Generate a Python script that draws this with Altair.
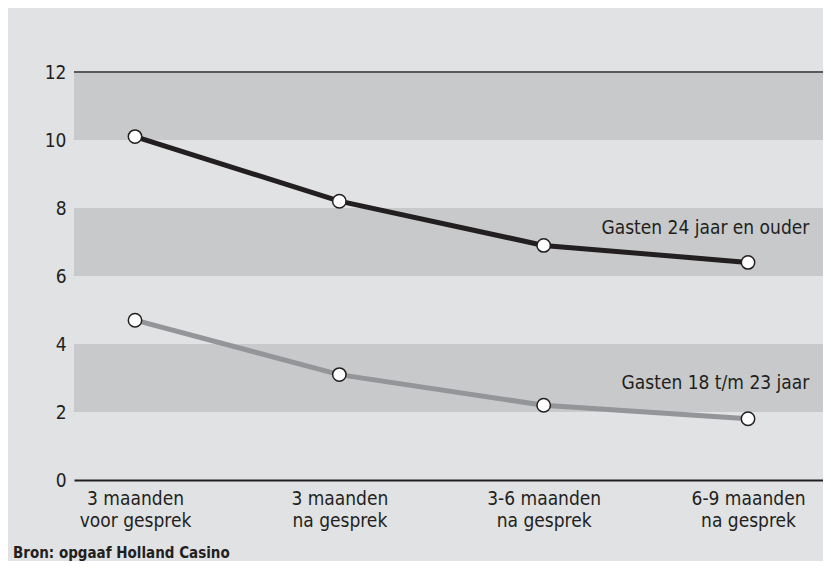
import altair as alt
import pandas as pd

categories = [["3 maanden", "voor gesprek"], ["3 maanden", "na gesprek"],
              ["3-6 maanden", "na gesprek"], ["6-9 maanden", "na gesprek"]]
series_old = "Gasten 24 jaar en ouder"
series_young = "Gasten 18 t/m 23 jaar"
values_old = [10.1, 8.2, 6.9, 6.4]
values_young = [4.7, 3.1, 2.2, 1.8]
y_ticks = [0, 2, 4, 6, 8, 10, 12]
band_lo = [10, 6, 2]
band_hi = [12, 8, 4]
label_x = [3.3, 3.3]
label_y = [7.4, 2.85]
source = "Bron: opgaaf Holland Casino"

FONT = "Liberation Sans Narrow, DejaVu Sans Condensed, Roboto, sans-serif"
BG = "#e1e2e4"
BAND = "#c8c9cb"

rows = []
for i in range(len(categories)):
    rows.append({"idx": i, "value": values_old[i], "series": series_old})
for i in range(len(categories)):
    rows.append({"idx": i, "value": values_young[i], "series": series_young})
df = pd.DataFrame(rows)
bands = pd.DataFrame({"lo": band_lo, "hi": band_hi})
labels = pd.DataFrame({"x": label_x, "y": label_y, "text": [series_old, series_young]})

xdom = [-0.2986, 3.367]
label_expr = "[" + ",".join("['" + a + "','" + b + "']" for a, b in categories) + "][datum.value]"

xscale = alt.Scale(domain=xdom, nice=False, zero=False)
yscale = alt.Scale(domain=[0, 12], nice=False)

band_layer = alt.Chart(bands).mark_rect(color=BAND).encode(
    y=alt.Y("lo:Q", scale=yscale,
            axis=alt.Axis(values=y_ticks, title=None, domain=False, ticks=False, grid=False,
                          labelFont=FONT, labelFontSize=19, labelColor="#231f20", labelPadding=8)),
    y2="hi:Q",
)

top_rule = alt.Chart(pd.DataFrame({"v": [max(y_ticks)]})).mark_rule(color="#58595b", strokeWidth=2).encode(
    y=alt.Y("v:Q", scale=yscale)
)

color_scale = alt.Scale(domain=[series_old, series_young], range=["#231f20", "#939598"])

lines = alt.Chart(df).mark_line(strokeWidth=5, interpolate="linear").encode(
    x=alt.X("idx:Q", scale=xscale,
            axis=alt.Axis(values=list(range(len(categories))), title=None, grid=False, ticks=False,
                          domainColor="#231f20", domainWidth=2, labelExpr=label_expr,
                          labelFont=FONT, labelFontSize=19, labelColor="#231f20", labelPadding=9,
                          labelLineHeight=22, labelBaseline="top")),
    y=alt.Y("value:Q", scale=yscale),
    color=alt.Color("series:N", scale=color_scale, legend=None),
    detail="series:N",
)

points = alt.Chart(df).mark_point(filled=True, fill="white", stroke="#231f20", strokeWidth=1.5,
                                  size=180, opacity=1, shape="circle").encode(
    x=alt.X("idx:Q", scale=xscale),
    y=alt.Y("value:Q", scale=yscale),
)

texts = alt.Chart(labels).mark_text(align="right", baseline="middle", font=FONT, fontSize=19,
                                    color="#231f20").encode(
    x=alt.X("x:Q", scale=xscale),
    y=alt.Y("y:Q", scale=yscale),
    text="text:N",
)

src = alt.Chart(pd.DataFrame({"t": [source]})).mark_text(
    align="left", baseline="bottom", font=FONT, fontSize=15, fontWeight="bold", color="#231f20"
).encode(x=alt.value(-61), y=alt.value(489), text="t:N")

chart = alt.layer(band_layer, top_rule, lines, points, texts, src).properties(
    width=749, height=408,
    padding={"left": 66, "top": 64, "right": 0, "bottom": 81},
    autosize=alt.AutoSizeParams(type="none"),
    background=BG,
).configure_view(stroke=None)

chart.save("out.html", embed_options={"renderer": "svg", "actions": False})
